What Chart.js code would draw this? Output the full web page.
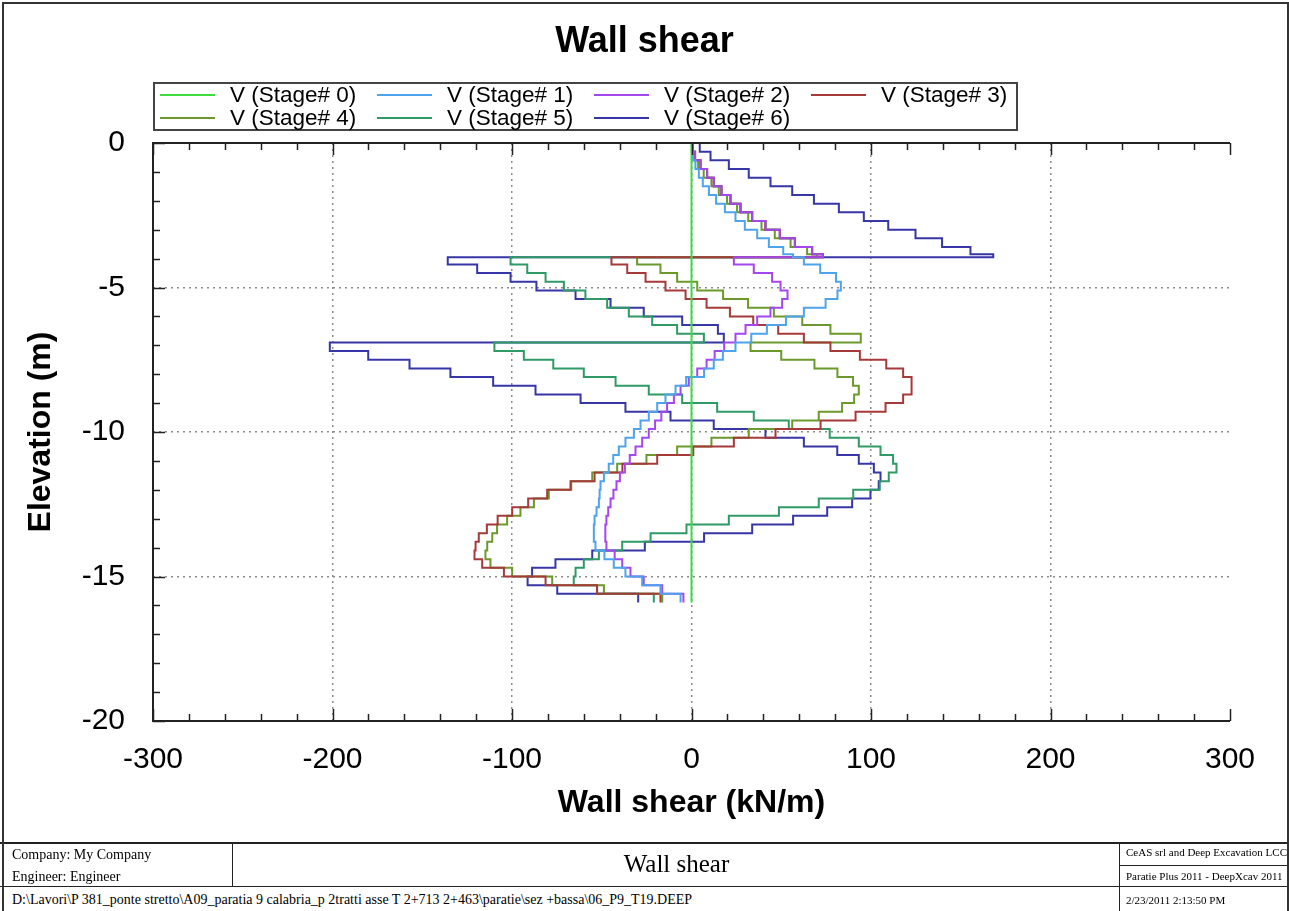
<!DOCTYPE html>
<html>
<head>
<meta charset="utf-8">
<title>Wall shear</title>
<script src="https://cdn.jsdelivr.net/npm/chart.js@4/dist/chart.umd.min.js"></script>
<style>
  html, body { margin: 0; padding: 0; background: #fff; }
  #page { position: relative; width: 1289px; height: 911px; overflow: hidden; font-family: "Liberation Serif", "Times New Roman", serif; }
  #wallChart { position: absolute; left: 0; top: 0; }
  .ln { position: absolute; background: #222; }
  .txt { position: absolute; white-space: nowrap; color: #000; }
</style>
</head>
<body>
<div id="page">
  <canvas id="wallChart" width="1289" height="843"></canvas>

  <!-- title block at the bottom -->
  <div class="ln" style="left:0;top:842px;width:1289px;height:2px"></div>
  <div class="ln" style="left:0;top:886px;width:1289px;height:1px"></div>
  <div class="ln" style="left:232px;top:843px;width:1px;height:44px"></div>
  <div class="ln" style="left:1119px;top:843px;width:1px;height:68px"></div>
  <div class="ln" style="left:1120px;top:865px;width:169px;height:1px"></div>

  <div class="txt" style="left:12px;top:847px;font-size:14px">Company: My Company</div>
  <div class="txt" style="left:12px;top:869px;font-size:14px">Engineer: Engineer</div>
  <div class="txt" style="left:233px;width:887px;top:850px;font-size:25px;text-align:center">Wall shear</div>
  <div class="txt" style="left:12px;top:892px;font-size:14px">D:\Lavori\P 381_ponte stretto\A09_paratia 9 calabria_p 2tratti asse T 2+713 2+463\paratie\sez +bassa\06_P9_T19.DEEP</div>
  <div class="txt" style="left:1126px;top:846px;font-size:11px">CeAS srl and Deep Excavation LCC</div>
  <div class="txt" style="left:1126px;top:870px;font-size:11px">Paratie Plus 2011 - DeepXcav 2011</div>
  <div class="txt" style="left:1126px;top:894px;font-size:11px">2/23/2011 2:13:50 PM</div>

  <!-- outer frame -->
  <div style="position:absolute;left:2px;top:2px;width:1283px;height:907px;border:2px solid #333;pointer-events:none"></div>
</div>

<script>
// node elevations of the wall mesh (m), top to toe
const elevations = [0, -0.3, -0.6, -0.9, -1.2, -1.5, -1.8, -2.1, -2.4, -2.7, -3.0, -3.3, -3.6, -3.85,
  -3.95, -4.2, -4.5, -4.8, -5.1, -5.4, -5.7, -6.0, -6.3, -6.6, -6.9, -7.2, -7.5, -7.8, -8.1, -8.4,
  -8.7, -9.0, -9.3, -9.6, -9.9, -10.2, -10.5, -10.8, -11.1, -11.4, -11.7, -12.0, -12.3, -12.6, -12.9,
  -13.2, -13.5, -13.8, -14.1, -14.4, -14.7, -15.0, -15.3, -15.6, -15.9];

const stageLabels = ['V (Stage# 0)', 'V (Stage# 1)', 'V (Stage# 2)', 'V (Stage# 3)',
  'V (Stage# 4)', 'V (Stage# 5)', 'V (Stage# 6)'];
const stageColors = ['#3fdc3f', '#4ea4ec', '#a447f0', '#a63a3a', '#6b992c', '#2f9a66', '#3636a6'];

// shear per element (kN/m), one value per element between two nodes
const vStage0 = [0, 0, 0, 0, 0, 0, 0, 0, 0, 0, 0, 0, 0, 0, 0, 0, 0, 0, 0, 0, 0, 0, 0, 0, 0, 0, 0,
  0, 0, 0, 0, 0, 0, 0, 0, 0, 0, 0, 0, 0, 0, 0, 0, 0, 0, 0, 0, 0, 0, 0, 0, 0, 0, 0];
const vStage1 = [0.2, 0.7, 2.2, 4.1, 6.3, 9.7, 13.7, 18.6, 24.5, 29.7, 36.6, 43.1, 51.1, 56.6,
  62.6, 71.7, 80.5, 83.2, 81.3, 74.7, 62.6, 52.6, 42.0, 33.3, 24.5, 17.5, 12.4, 7.0, -3.0, -8.9,
  -14.5, -19.1, -23.8, -28.4, -32.1, -36.8, -40.5, -43.6, -46.1, -48.8, -50.7, -51.2, -51.6, -52.9,
  -54.0, -54.4, -54.4, -53.5, -48.5, -43.3, -36.8, -27.5, -17.3, -6.1];
const vStage2 = [0.5, 2.0, 5.0, 8.7, 12.4, 16.7, 21.7, 27.3, 33.8, 41.2, 49.2, 57.6, 67.2, 73.2,
  23.6, 34.7, 44.9, 49.6, 53.5, 50.5, 44.0, 36.6, 30.1, 24.5, 18.2, 12.9, 8.4, 3.2, -1.5, -6.1,
  -9.8, -13.6, -16.8, -20.3, -23.8, -27.5, -31.2, -34.4, -37.1, -39.9, -41.8, -43.5, -45.1, -46.4,
  -47.4, -48.0, -48.0, -47.4, -42.8, -38.6, -34.0, -26.6, -16.3, -4.5];
const vStage3 = [0.5, 2.0, 5.0, 8.7, 12.4, 16.7, 21.7, 27.3, 33.8, 41.2, 49.2, 57.6, 67.2, 73.2,
  -44.6, -35.8, -25.6, -14.5, -3.3, 8.4, 21.4, 34.4, 48.3, 62.6, 77.4, 93.8, 108.5, 117.9, 122.6,
  122.6, 117.9, 108.1, 91.4, 71.9, 46.8, 23.6, 1.0, -19.1, -38.5, -54.0, -67.4, -80.4, -91.0, -99.9,
  -108.0, -114.0, -118.5, -120.3, -120.9, -116.6, -104.5, -81.3, -52.6, -17.3];
const vStage4 = [0.4, 1.5, 3.7, 6.8, 11.1, 15.2, 19.8, 25.4, 31.6, 39.0, 46.4, 55.2, 64.4, 70.0,
  -30.3, -17.3, -8.0, 3.2, 17.6, 31.5, 45.9, 61.7, 77.4, 94.3, 32.9, 50.0, 68.5, 81.3, 90.0, 93.2,
  90.6, 83.9, 70.9, 56.1, 31.9, 11.1, -8.0, -25.1, -41.4, -55.3, -67.0, -79.5, -87.8, -95.3, -102.7,
  -108.3, -111.0, -113.8, -114.8, -112.0, -99.9, -77.6, -48.8, -16.3];
const vStage5 = [0.5, 2.0, 5.0, 8.7, 12.4, 16.7, 21.7, 27.3, 33.8, 41.2, 49.2, 57.6, 67.2, 73.2,
  -100.8, -91.5, -81.3, -71.1, -59.1, -47.0, -34.9, -21.9, -8.0, 6.9, -109.8, -93.4, -77.0, -60.0,
  -42.3, -23.8, -5.2, 14.3, 34.7, 54.2, 77.0, 93.2, 105.3, 112.3, 114.2, 109.9, 104.9, 90.1, 70.9,
  48.7, 20.8, -2.8, -22.8, -38.6, -51.6, -60.0, -64.6, -65.6, -52.6, -21.0];
const vStage6 = [4.6, 10.6, 20.8, 31.9, 44.0, 56.1, 68.2, 82.1, 96.0, 109.6, 124.8, 139.6, 155.4, 168.1,
  -135.8, -119.4, -100.8, -86.4, -64.6, -45.1, -26.6, -5.2, 14.7, 18.0, -201.5, -180.1, -157.1,
  -134.3, -110.5, -86.9, -61.8, -36.8, -11.7, 12.4, 41.2, 62.6, 81.2, 93.2, 101.6, 105.3, 104.3,
  99.7, 89.5, 75.6, 56.6, 33.8, 7.0, -26.0, -55.3, -75.8, -88.8, -91.3, -74.8, -29.7];

const stageValues = [vStage0, vStage1, vStage2, vStage3, vStage4, vStage5, vStage6];

const FONT = '"Liberation Sans", Arial, sans-serif';

// each element is a vertical run at its value, the jump happens at the node below
function profile(values) {
  const pts = values.map((v, i) => ({ x: v, y: elevations[i] }));
  pts.push({ x: values[values.length - 1], y: elevations[values.length] });
  return pts;
}

const datasets = stageValues.map((vals, i) => ({
  label: stageLabels[i],
  data: profile(vals),
  borderColor: stageColors[i],
  backgroundColor: stageColors[i],
  borderWidth: 2,
  showLine: true,
  stepped: 'after',
  pointRadius: 0,
  fill: false
}));

// title, legend box, frame and inside tick marks
const decorPlugin = {
  id: 'decor',
  afterDraw(chart) {
    const { ctx, chartArea: a, scales: { x, y } } = chart;
    ctx.save();

    // title
    ctx.fillStyle = '#000';
    ctx.font = 'bold 36px ' + FONT;
    ctx.textAlign = 'center';
    ctx.textBaseline = 'middle';
    ctx.fillText('Wall shear', chart.width / 2, 42);

    // legend
    ctx.strokeStyle = '#444';
    ctx.lineWidth = 2;
    ctx.strokeRect(154, 83, 863, 47);
    ctx.font = '22.5px ' + FONT;
    ctx.textAlign = 'left';
    stageLabels.forEach((lab, i) => {
      const col = i % 4, row = Math.floor(i / 4);
      const lx = 160 + col * 217, ly = 95 + row * 23;
      ctx.strokeStyle = stageColors[i];
      ctx.lineWidth = 2;
      ctx.beginPath();
      ctx.moveTo(lx, ly); ctx.lineTo(lx + 55, ly);
      ctx.stroke();
      ctx.fillStyle = '#000';
      ctx.fillText(lab, lx + 70, ly + 1);
    });

    // frame
    ctx.strokeStyle = '#222';
    ctx.lineWidth = 2;
    ctx.beginPath();
    ctx.moveTo(a.right, a.top); ctx.lineTo(a.left, a.top);
    ctx.lineTo(a.left, a.bottom); ctx.lineTo(a.right, a.bottom);
    ctx.stroke();

    // ticks inside the plot, minor every 20 kN/m and 1 m
    ctx.lineWidth = 1.5;
    ctx.beginPath();
    for (let v = x.min; v <= x.max; v += 20) {
      const px = Math.round(x.getPixelForValue(v)) + 0.5;
      const len = v % 100 === 0 ? 12 : 7;
      ctx.moveTo(px, a.bottom); ctx.lineTo(px, a.bottom - len);
      ctx.moveTo(px, a.top); ctx.lineTo(px, a.top + len);
    }
    for (let v = y.min; v <= y.max; v += 1) {
      const py = Math.round(y.getPixelForValue(v)) + 0.5;
      const len = v % 5 === 0 ? 12 : 7;
      ctx.moveTo(a.left, py); ctx.lineTo(a.left + len, py);
    }
    ctx.stroke();
    ctx.restore();
  }
};

new Chart(document.getElementById('wallChart'), {
  type: 'scatter',
  data: { datasets },
  plugins: [decorPlugin],
  options: {
    responsive: false,
    animation: false,
    events: [],
    layout: { padding: { top: 143, right: 59, left: 0, bottom: 0 } },
    plugins: { legend: { display: false }, title: { display: false }, tooltip: { enabled: false } },
    scales: {
      x: {
        type: 'linear', min: -300, max: 300,
        ticks: { stepSize: 100, color: '#000', padding: 21, maxRotation: 0, font: { family: FONT, size: 30 } },
        grid: {
          color: (c) => (c.tick && Math.abs(c.tick.value) < 300) ? '#8c8c8c' : 'rgba(0,0,0,0)',
          lineWidth: 1.5, drawTicks: false
        },
        border: { display: false, dash: [2, 4] },
        title: { display: true, text: 'Wall shear (kN/m)', color: '#000',
          font: { family: FONT, size: 32, weight: 'bold' }, padding: { top: 0, bottom: 21 } },
        afterFit: (s) => { s.height = 122; }
      },
      y: {
        type: 'linear', min: -20, max: 0,
        ticks: { stepSize: 5, color: '#000', padding: 28, font: { family: FONT, size: 30 } },
        grid: {
          color: (c) => (c.tick && c.tick.value < 0 && c.tick.value > -20) ? '#8c8c8c' : 'rgba(0,0,0,0)',
          lineWidth: 1.5, drawTicks: false
        },
        border: { display: false, dash: [2, 4] },
        title: { display: true, text: 'Elevation (m)', color: '#000',
          font: { family: FONT, size: 32, weight: 'bold' }, padding: { top: 22, bottom: 0 } },
        afterFit: (s) => { s.width = 153; }
      }
    }
  }
});
</script>
</body>
</html>
